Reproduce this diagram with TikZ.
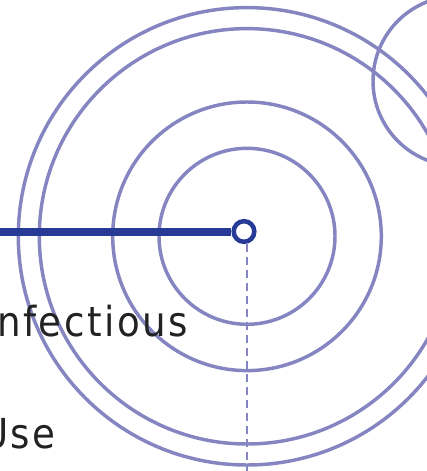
\documentclass[tikz,border=0pt]{standalone}
\usepackage{fontspec}
\setmainfont{DejaVu Sans}
\newfontfamily\lblfont[LetterSpace=6]{DejaVu Sans Condensed}
\usetikzlibrary{positioning,calc}
\definecolor{RingBlue}{RGB}{133,133,194}
\definecolor{DeepBlue}{RGB}{38,58,150}
\definecolor{InkGray}{RGB}{34,34,34}
\tikzset{
  ring/.style={draw=RingBlue,line width=2.6pt},
  spine/.style={draw=DeepBlue,line width=6pt},
  hub/.style={circle,draw=DeepBlue,fill=white,line width=3.4pt,minimum size=15.5pt,inner sep=0pt},
  dotline/.style={draw=RingBlue,line width=2.1pt,dash pattern=on 6pt off 3.75pt},
  lbl/.style={anchor=base west,inner sep=0pt,text=InkGray,font=\lblfont\fontsize{31}{36}\selectfont},
}

\begin{document}
\begin{tikzpicture}[x=0.75pt,y=-0.75pt]
\useasboundingbox (0,0) rectangle (426,471);
\coordinate (c) at (247,236.3);
\coordinate (side) at (458,81);
\coordinate (left) at (0,231.5);
\coordinate (bottom) at (247,475);
% rings
\foreach \r in {88,134.3,207.7,228.7}
  \draw[ring] (c) circle[radius=\r];
\draw[ring] (side) circle[radius=85];
% hub and its lines
\node[hub] (h) at (244,231.5) {};
\draw[dotline] (h.south -| bottom) -- (bottom);
\draw[spine] (left) -- (h.west);
% labels
\node[lbl] (inf) at (-3,336) {nfectious};
\node[lbl] (use) at (-19,448) {Use};
\end{tikzpicture}
\end{document}
